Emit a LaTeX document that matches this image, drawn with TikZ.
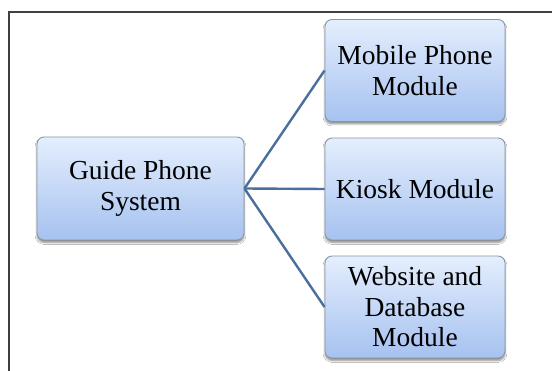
\documentclass[tikz,border=0pt]{standalone}
\usepackage{fontspec}
\setmainfont{Liberation Serif}
\usetikzlibrary{shadows.blur}
\definecolor{boxtop}{HTML}{E4EEFD}
\definecolor{boxbot}{HTML}{A6C2F0}
\definecolor{boxedge}{HTML}{8A97AA}
\definecolor{linkc}{HTML}{4A6F9E}
\begin{document}
\begin{tikzpicture}[x=1pt,y=-1pt,
  modbox/.style={draw=boxedge, line width=0.9pt, rounded corners=7pt,
    top color=boxtop, bottom color=boxbot,
    blur shadow={shadow xshift=0pt, shadow yshift=-2.5pt, shadow blur steps=6, shadow opacity=45},
    minimum width=180pt, minimum height=102pt, inner sep=2pt,
    align=center, font=\fontsize{27.5}{30.5}\selectfont, text=black},
  link/.style={draw=linkc, line width=2.4pt}]
\useasboundingbox (0,0) rectangle (552,371);
\fill[white] (0,0) rectangle (552,371);
\draw[line width=2pt, black!75] (9,372) -- (9,12) -- (553,12);
\node[modbox, minimum width=207pt, minimum height=103pt] (g) at (140.5,188.5) {Guide Phone\\System};
\node[modbox] (m) at (415,70.5) {Mobile Phone\\Module};
\node[modbox] (k) at (415,189) {Kiosk Module};
\node[modbox] (w) at (415,307) {Website and\\Database\\Module};
\draw[link] (g.east) -- (m.west);
\draw[link] (g.east) -- (k.west);
\draw[link] (g.east) -- (w.west);
\end{tikzpicture}
\end{document}
